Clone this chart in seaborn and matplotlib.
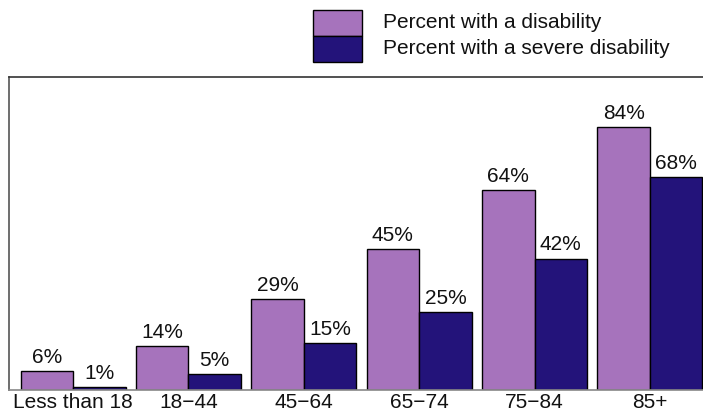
import matplotlib
matplotlib.use("Agg")
import matplotlib.pyplot as plt
from matplotlib.patches import Rectangle
import seaborn as sns
import pandas as pd

categories = ["Less than 18", "18\u221244", "45\u221264", "65\u221274", "75\u221284", "85+"]
disability = [6, 14, 29, 45, 64, 84]
severe = [1, 5, 15, 25, 42, 68]
series_names = ["Percent with a disability", "Percent with a severe disability"]
colors = ["#A673BC", "#23137A"]

df = pd.DataFrame({
    "Age": categories * 2,
    "Value": disability + severe,
    "Series": [series_names[0]] * len(categories) + [series_names[1]] * len(categories),
})

sns.set_style("white")
plt.rcParams["font.family"] = ["Liberation Sans", "DejaVu Sans"]

W, H = 703, 417
fig = plt.figure(figsize=(W / 100, H / 100), dpi=100)
ax = fig.add_axes([9 / W, 27 / H, (703 - 9) / W, 313 / H])

sns.barplot(data=df, x="Age", y="Value", hue="Series", palette=colors,
            width=0.91, gap=0, edgecolor="black", linewidth=1,
            legend=False, ax=ax, saturation=1)

for cont in ax.containers:
    ax.bar_label(cont, labels=[f"{v:.0f}%" for v in cont.datavalues],
                 padding=3, fontsize=15, color="#111111")

ax.set_ylim(0, 100)
ax.set_xlim(-0.555, 5.46)
ax.set_xlabel("")
ax.set_ylabel("")
ax.set_yticks([])
ax.tick_params(axis="x", length=0, labelsize=15, pad=2, colors="#111111")
ax.spines["right"].set_visible(False)
ax.spines["top"].set_color("#333333")
ax.spines["left"].set_color("#555555")
ax.spines["bottom"].set_color("#888888")
for s in ["top", "left", "bottom"]:
    ax.spines[s].set_linewidth(1.2)

# legend block
sx, sw, sh = 313, 49, 26
for i, c in enumerate(colors):
    y_top = 10 + i * sh
    fig.patches.append(Rectangle((sx / W, 1 - (y_top + sh) / H), sw / W, sh / H,
                                 transform=fig.transFigure, facecolor=c,
                                 edgecolor="black", linewidth=1))
    fig.text(383 / W, 1 - (y_top + sh / 2) / H, series_names[i],
             fontsize=15, va="center", ha="left", color="#111111")

fig.savefig("out.png", dpi=100)
